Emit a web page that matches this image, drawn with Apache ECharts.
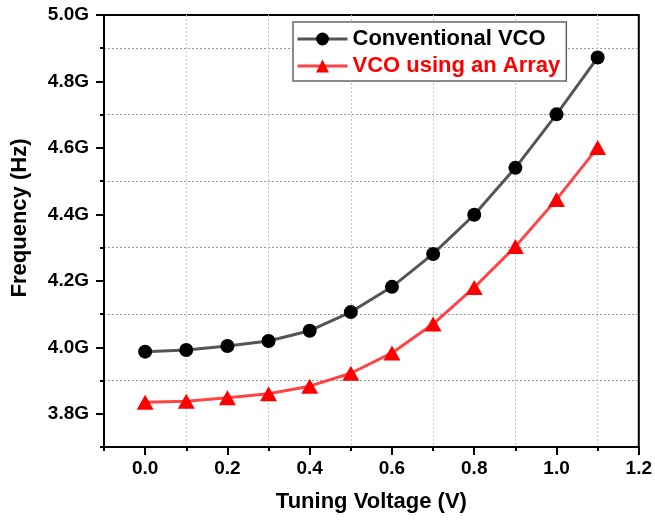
<!DOCTYPE html>
<html><head><meta charset="utf-8">
<script src="https://cdn.jsdelivr.net/npm/echarts@6/dist/echarts.min.js"></script>
<style>html,body{margin:0;padding:0;background:#fff}#c{width:655px;height:520px}</style>
</head><body><div id="c"></div>
<script>
const voltages = [0.0, 0.1, 0.2, 0.3, 0.4, 0.5, 0.6, 0.7, 0.8, 0.9, 1.0, 1.1];
const conventionalVCO = [3.987, 3.992, 4.004, 4.019, 4.050, 4.106, 4.182, 4.281, 4.399, 4.540, 4.701, 4.872];
const arrayVCO = [3.835, 3.838, 3.848, 3.860, 3.883, 3.922, 3.983, 4.070, 4.180, 4.303, 4.445, 4.601];
const xMajorTicks = [0.0, 0.2, 0.4, 0.6, 0.8, 1.0, 1.2];
const xMinorTicks = [-0.1, 0.1, 0.3, 0.5, 0.7, 0.9, 1.1];
const yMajorTicks = [3.8, 4.0, 4.2, 4.4, 4.6, 4.8, 5.0];
const yMinorTicks = [3.7, 3.9, 4.1, 4.3, 4.5, 4.7, 4.9];
const seriesNames = ['Conventional VCO', 'VCO using an Array'];

const FONT = '"Liberation Sans", Arial, sans-serif';
const chart = echarts.init(document.getElementById('c'));
const labelStyle = { color: '#000', fontSize: 19, fontWeight: 'bold', fontFamily: FONT };

chart.setOption({
  animation: false,
  grid: { left: 104, right: 16, top: 15, bottom: 73, show: true, borderColor: '#000', borderWidth: 2 },
  legend: {
    orient: 'vertical', left: 293, top: 22, padding: [6, 6, 4, 3], itemGap: 5,
    itemWidth: 50, itemHeight: 16, borderColor: '#666', borderWidth: 1.5, backgroundColor: '#fff',
    textStyle: { fontSize: 22, fontWeight: 'bold', fontFamily: FONT },
    lineStyle: { width: 3 },
    data: [
      { name: seriesNames[0], textStyle: { color: '#000' } },
      { name: seriesNames[1], textStyle: { color: '#ff0000' } }
    ]
  },
  xAxis: [
    {
      type: 'value', min: -0.1, max: 1.2, position: 'bottom',
      axisLine: { show: true, onZero: false, lineStyle: { color: '#000', width: 2 } },
      axisTick: { show: true, customValues: xMajorTicks, length: 8, lineStyle: { color: '#000', width: 2 } },
      axisLabel: { customValues: xMajorTicks, formatter: v => v.toFixed(1), margin: 12, ...labelStyle },
      splitLine: { show: false },
      name: 'Tuning Voltage (V)', nameLocation: 'middle', nameGap: 44,
      nameTextStyle: { color: '#000', fontSize: 22, fontWeight: 'bold', fontFamily: FONT }
    },
    {
      type: 'value', min: -0.1, max: 1.2, position: 'bottom',
      axisLine: { show: false, onZero: false },
      axisTick: { show: true, customValues: xMinorTicks, length: 4, lineStyle: { color: '#000', width: 2 } },
      axisLabel: { show: false },
      splitLine: { show: true, lineStyle: { color: '#c8c8c8', width: 1, type: [2, 2] } }
    }
  ],
  yAxis: [
    {
      type: 'value', min: 3.7, max: 5.0, position: 'left',
      axisLine: { show: true, onZero: false, lineStyle: { color: '#000', width: 2 } },
      axisTick: { show: true, customValues: yMajorTicks, length: 8, lineStyle: { color: '#000', width: 2 } },
      axisLabel: { customValues: yMajorTicks, formatter: v => v.toFixed(1) + 'G', margin: 15, ...labelStyle },
      splitLine: { show: false }
    },
    {
      type: 'value', min: 3.7, max: 5.0, position: 'left',
      axisLine: { show: false, onZero: false },
      axisTick: { show: true, customValues: yMinorTicks, length: 4, lineStyle: { color: '#000', width: 2 } },
      axisLabel: { show: false },
      splitLine: { show: true, lineStyle: { color: '#999', width: 1, type: [2, 2] } }
    }
  ],
  graphic: [{
    type: 'text', x: 20, y: 218, rotation: Math.PI / 2,
    style: { text: 'Frequency (Hz)', fill: '#000', fontSize: 22, fontWeight: 'bold', fontFamily: FONT,
             textAlign: 'center', textVerticalAlign: 'middle' }
  }],
  series: [
    {
      name: seriesNames[0], type: 'line', xAxisIndex: 0, yAxisIndex: 0,
      data: voltages.map((v, i) => [v, conventionalVCO[i]]),
      symbol: 'circle', symbolSize: 14, smooth: false,
      lineStyle: { color: '#555', width: 3 }, itemStyle: { color: '#000' }
    },
    {
      name: seriesNames[1], type: 'line', xAxisIndex: 0, yAxisIndex: 0,
      data: voltages.map((v, i) => [v, arrayVCO[i]]),
      symbol: 'triangle', symbolSize: [17, 15], smooth: false,
      lineStyle: { color: '#ff4444', width: 3 }, itemStyle: { color: '#ff0000' }
    }
  ]
});
</script>
</body></html>
